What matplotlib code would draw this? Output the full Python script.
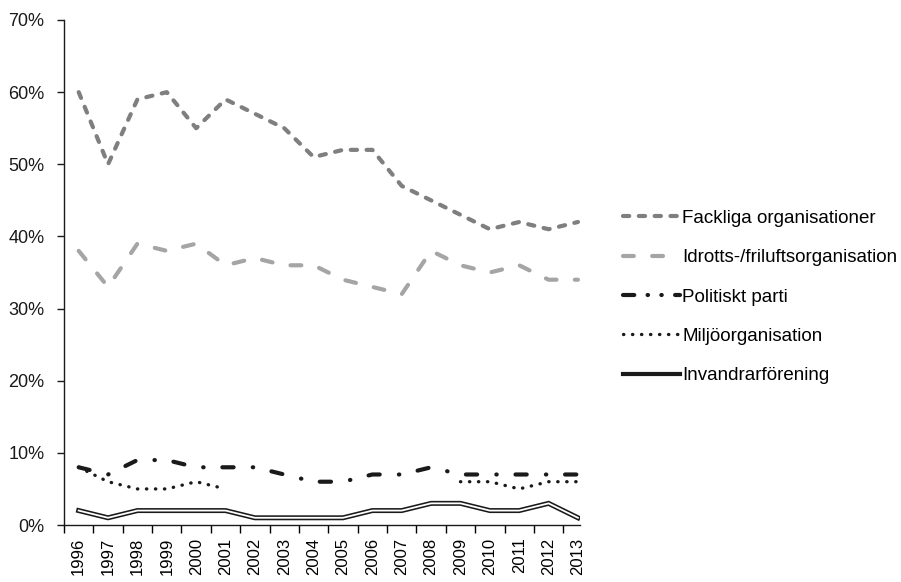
import matplotlib
matplotlib.use("Agg")
import matplotlib.pyplot as plt
from matplotlib.lines import Line2D
from matplotlib.ticker import FuncFormatter, FixedLocator
import numpy as np

plt.rcParams["font.family"] = ["Liberation Sans", "DejaVu Sans"]

# ── Data ──────────────────────────────────────────────────────────────────────
years = ["1996", "1997", "1998", "1999", "2000", "2001", "2002", "2003", "2004",
         "2005", "2006", "2007", "2008", "2009", "2010", "2011", "2012", "2013"]
fackliga = [60, 50, 59, 60, 55, 59, 57, 55, 51, 52, 52, 47, 45, 43, 41, 42, 41, 42]
idrott = [38, 33, 39, 38, 39, 36, 37, 36, 36, 34, 33, 32, 38, 36, 35, 36, 34, 34]
politiskt = [8, 7, 9, 9, 8, 8, 8, 7, 6, 6, 7, 7, 8, 7, 7, 7, 7, 7]
miljo = [8, 6, 5, 5, 6, 5, None, None, None, None, None, None, None, 6, 6, 5, 6, 6]
invandrar = [2, 1, 2, 2, 2, 2, 1, 1, 1, 1, 2, 2, 3, 3, 2, 2, 3, 1]

labels = ["Fackliga organisationer", "Idrotts-/friluftsorganisation",
          "Politiskt parti", "Miljöorganisation", "Invandrarförening"]

x = np.arange(len(years))
miljo_arr = np.array([np.nan if v is None else v for v in miljo], dtype=float)

# line styles
FACK = dict(color="#7f7f80", lw=3.0, dash_capstyle="round", linestyle=(0, (1.5, 2.3)))
IDR = dict(color="#a5a5a7", lw=3.0, dash_capstyle="round", linestyle=(0, (2.6, 4.4)))
POL = dict(color="#1a1a1a", lw=3.0, dash_capstyle="round",
           linestyle=(0, (2.7, 4.6, 0.1, 4.5)))
MIL = dict(color="#1a1a1a", lw=2.4, dash_capstyle="round", linestyle=(0, (0.1, 2.6)))

fig = plt.figure(figsize=(9.01, 5.82), dpi=100)
ax = fig.add_axes([64 / 901, 1 - 525 / 582, (580 - 64) / 901, (525 - 20) / 582])

ax.plot(x, fackliga, **FACK)
ax.plot(x, idrott, **IDR)
ax.plot(x, politiskt, **POL)
ax.plot(x, miljo_arr, **MIL)
# double line: black with white core
ax.plot(x, invandrar, color="#1a1a1a", lw=3.6, solid_joinstyle="miter")
ax.plot(x, invandrar, color="white", lw=1.3, solid_joinstyle="miter")

# ── Axes styling ──────────────────────────────────────────────────────────────
ax.set_ylim(0, 70)
ax.set_xlim(-0.5, 17.07)
ax.set_yticks(np.arange(0, 71, 10))
ax.yaxis.set_major_formatter(FuncFormatter(lambda v, _: f"{int(v)}%"))
ax.tick_params(axis="y", length=5, width=1, direction="out", labelsize=13, pad=9,
               colors="#1a1a1a")

ax.xaxis.set_major_locator(FixedLocator(x - 0.5))
ax.xaxis.set_minor_locator(FixedLocator(x))
ax.set_xticklabels([])
ax.set_xticklabels(years, minor=True, rotation=90, fontsize=12)
ax.tick_params(axis="x", which="major", length=6, width=1, direction="out")
ax.tick_params(axis="x", which="minor", length=0, pad=9)

for s in ["top", "right"]:
    ax.spines[s].set_visible(False)
for s in ["left", "bottom"]:
    ax.spines[s].set_color("#1a1a1a")
    ax.spines[s].set_linewidth(1)

# ── Legend ────────────────────────────────────────────────────────────────────
handles = [
    Line2D([], [], **FACK),
    Line2D([], [], **IDR),
    Line2D([], [], color="#1a1a1a", lw=3.0, dash_capstyle="round",
           linestyle=(0, (2.7, 3.2, 0.1, 3.2, 0.1, 3.2))),
    Line2D([], [], **MIL),
    Line2D([], [], color="#1a1a1a", lw=3.0),
]
fig.legend(handles, labels, loc="upper left", bbox_to_anchor=(615 / 901, 1 - 202 / 582),
           frameon=False, fontsize=13.5, handlelength=3.05, handletextpad=0.15,
           labelspacing=1.19, borderaxespad=0)

fig.savefig("out.png", dpi=100)
